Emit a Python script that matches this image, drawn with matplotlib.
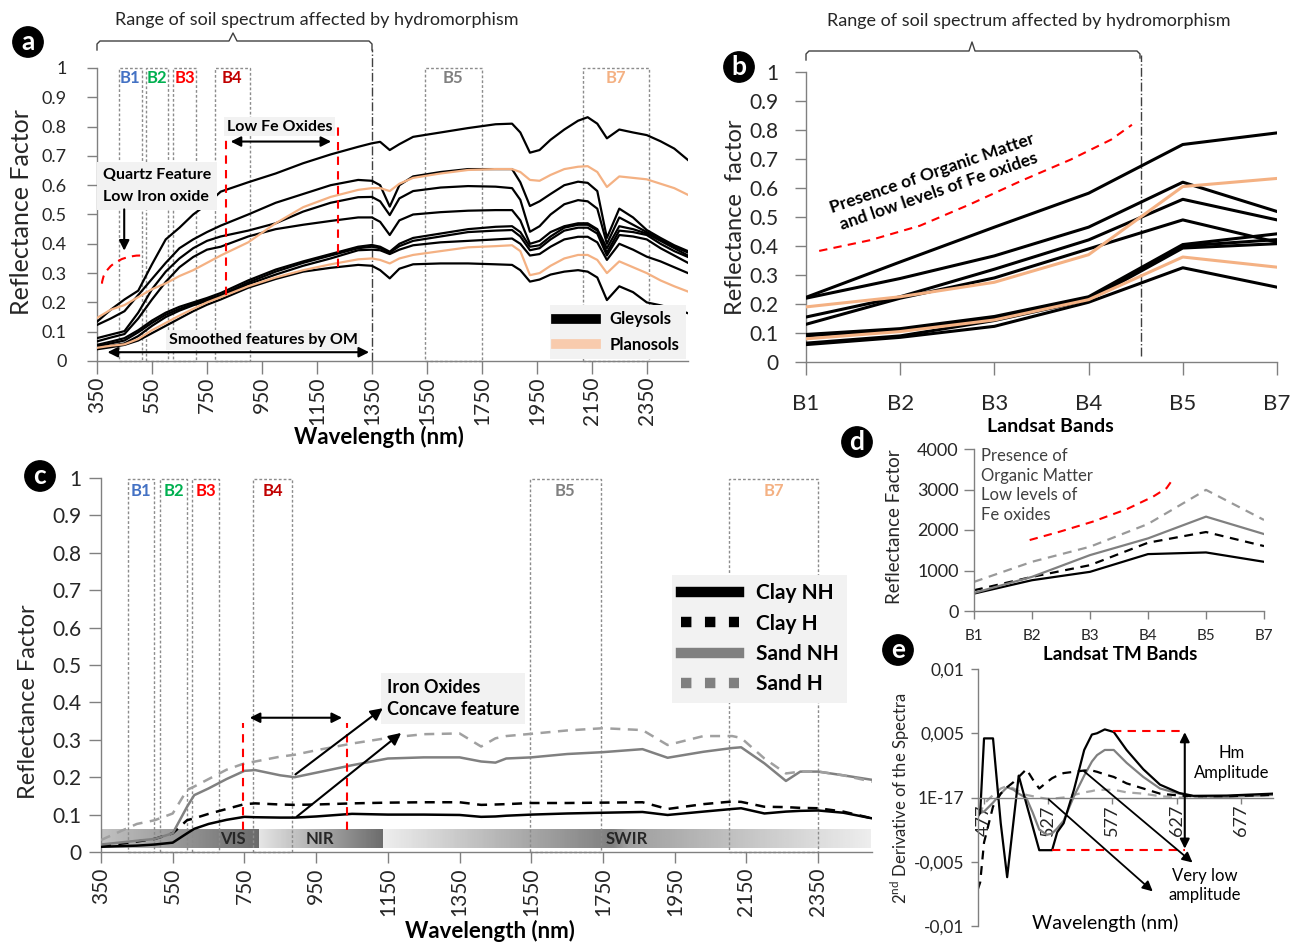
import numpy as np
import matplotlib
matplotlib.use('Agg')
import matplotlib.pyplot as plt
from matplotlib.lines import Line2D
from matplotlib.patches import Rectangle, Arc

plt.rcParams['font.family'] = ['Lato', 'DejaVu Sans']
plt.rcParams['mathtext.fontset'] = 'custom'
plt.rcParams['mathtext.rm'] = 'Lato'

W = 1304
H = 944

# ---------------- panel a : spectra of Gleysols / Planosols ----------------
wl_a = [350, 400, 450, 500, 550, 600, 650, 700, 750, 800, 900, 1000, 1100, 1200, 1300, 1350, 1380,
        1415, 1450, 1500, 1600, 1700, 1800, 1860, 1890, 1925, 1960, 2000, 2050, 2100, 2135, 2170,
        2205, 2250, 2300, 2350, 2400, 2450, 2500]
gley1 = [0.134, 0.175, 0.21, 0.24, 0.33, 0.415, 0.455, 0.50, 0.535, 0.578,
         0.61, 0.64, 0.675, 0.705, 0.731, 0.743, 0.748, 0.72, 0.74, 0.765,
         0.78, 0.795, 0.808, 0.81, 0.78, 0.711, 0.72, 0.755, 0.79, 0.82,
         0.832, 0.81, 0.76, 0.79, 0.78, 0.771, 0.75, 0.725, 0.686]
gley2 = [0.123, 0.145, 0.17, 0.225, 0.28, 0.335, 0.385, 0.415, 0.44, 0.462,
         0.50, 0.54, 0.57, 0.60, 0.618, 0.615, 0.60, 0.527, 0.60, 0.63,
         0.645, 0.655, 0.655, 0.655, 0.61, 0.529, 0.545, 0.57, 0.60, 0.612,
         0.608, 0.58, 0.42, 0.52, 0.49, 0.447, 0.42, 0.395, 0.375]
gley3 = [0.078, 0.09, 0.102, 0.165, 0.245, 0.305, 0.35, 0.385, 0.41, 0.425,
         0.445, 0.47, 0.51, 0.54, 0.559, 0.56, 0.545, 0.498, 0.555, 0.58,
         0.592, 0.597, 0.595, 0.59, 0.55, 0.441, 0.46, 0.50, 0.535, 0.549,
         0.545, 0.52, 0.40, 0.49, 0.465, 0.44, 0.415, 0.39, 0.37]
gley4 = [0.067, 0.08, 0.092, 0.145, 0.21, 0.27, 0.32, 0.355, 0.38, 0.39,
         0.425, 0.45, 0.465, 0.478, 0.49, 0.49, 0.475, 0.43, 0.48, 0.50,
         0.508, 0.513, 0.515, 0.515, 0.48, 0.40, 0.41, 0.44, 0.46, 0.47,
         0.47, 0.45, 0.385, 0.46, 0.45, 0.435, 0.41, 0.385, 0.36]
gley5 = [0.055, 0.066, 0.078, 0.105, 0.138, 0.165, 0.185, 0.20, 0.215, 0.232,
         0.275, 0.312, 0.34, 0.365, 0.39, 0.396, 0.39, 0.373, 0.40, 0.42,
         0.435, 0.45, 0.458, 0.46, 0.44, 0.39, 0.395, 0.425, 0.455, 0.465,
         0.465, 0.445, 0.37, 0.445, 0.44, 0.43, 0.40, 0.375, 0.355]
gley6 = [0.05, 0.06, 0.07, 0.098, 0.13, 0.158, 0.178, 0.195, 0.21, 0.225,
         0.268, 0.305, 0.335, 0.36, 0.385, 0.39, 0.385, 0.37, 0.392, 0.41,
         0.425, 0.44, 0.445, 0.447, 0.425, 0.378, 0.385, 0.415, 0.445, 0.455,
         0.455, 0.435, 0.36, 0.43, 0.425, 0.415, 0.385, 0.36, 0.335]
gley7 = [0.043, 0.052, 0.06, 0.085, 0.12, 0.15, 0.172, 0.19, 0.205, 0.22,
         0.262, 0.295, 0.325, 0.35, 0.378, 0.38, 0.378, 0.365, 0.38, 0.395,
         0.405, 0.41, 0.415, 0.418, 0.40, 0.36, 0.365, 0.39, 0.415, 0.424,
         0.424, 0.405, 0.345, 0.40, 0.38, 0.356, 0.34, 0.32, 0.30]
gley8 = [0.04, 0.047, 0.055, 0.07, 0.095, 0.12, 0.145, 0.17, 0.192, 0.21,
         0.25, 0.28, 0.305, 0.318, 0.328, 0.325, 0.31, 0.282, 0.315, 0.33,
         0.333, 0.333, 0.33, 0.328, 0.31, 0.271, 0.278, 0.295, 0.305, 0.31,
         0.305, 0.285, 0.208, 0.255, 0.235, 0.20, 0.19, 0.178, 0.163]
plano1 = [0.147, 0.175, 0.191, 0.218, 0.245, 0.265, 0.29, 0.31, 0.335, 0.36,
          0.405, 0.47, 0.525, 0.56, 0.584, 0.59, 0.59, 0.58, 0.605, 0.625,
          0.64, 0.652, 0.655, 0.655, 0.645, 0.618, 0.615, 0.635, 0.655, 0.663,
          0.665, 0.645, 0.594, 0.63, 0.625, 0.62, 0.605, 0.59, 0.567]
plano2 = [0.045, 0.052, 0.057, 0.075, 0.105, 0.13, 0.155, 0.178, 0.20, 0.218,
          0.255, 0.285, 0.31, 0.33, 0.347, 0.35, 0.345, 0.333, 0.35, 0.362,
          0.375, 0.388, 0.392, 0.395, 0.375, 0.293, 0.30, 0.325, 0.35, 0.362,
          0.362, 0.345, 0.30, 0.34, 0.32, 0.30, 0.275, 0.255, 0.237]
gley_a = [gley1, gley2, gley3, gley4, gley5, gley6, gley7, gley8]
plano_a = [plano1, plano2]

band_names = ['B1', 'B2', 'B3', 'B4', 'B5', 'B7']
band_colors = ['#4472C4', '#00B050', '#FF0000', '#C00000', '#808080', '#F4B183']
bands_a_nm = [(430, 512), (528, 608), (627, 710), (779, 906), (1543, 1750), (2119, 2357)]

# ---------------- panel b : Landsat band values ----------------
bands_b = ['B1', 'B2', 'B3', 'B4', 'B5', 'B7']
gley_b1 = [0.223, 0.345, 0.465, 0.582, 0.75, 0.79]
gley_b2 = [0.22, 0.288, 0.366, 0.465, 0.62, 0.519]
gley_b3 = [0.155, 0.225, 0.32, 0.421, 0.561, 0.49]
gley_b4 = [0.13, 0.22, 0.29, 0.39, 0.49, 0.413]
gley_b5 = [0.095, 0.115, 0.157, 0.225, 0.405, 0.442]
gley_b6 = [0.09, 0.11, 0.149, 0.22, 0.40, 0.422]
gley_b7 = [0.065, 0.09, 0.143, 0.214, 0.393, 0.408]
gley_b8 = [0.06, 0.085, 0.123, 0.206, 0.325, 0.258]
plano_b1 = [0.19, 0.225, 0.275, 0.37, 0.605, 0.633]
plano_b2 = [0.08, 0.105, 0.145, 0.215, 0.362, 0.327]
gley_b = [gley_b1, gley_b2, gley_b3, gley_b4, gley_b5, gley_b6, gley_b7, gley_b8]
plano_b = [plano_b1, plano_b2]
om_b_x = [0.14, 0.68, 1.21, 1.75, 2.28, 2.81, 3.24, 3.46]
om_b_y = [0.383, 0.42, 0.47, 0.545, 0.624, 0.698, 0.767, 0.818]

# ---------------- panel c : clay / sand, hydromorphic or not ----------------
wl_c = [350, 450, 500, 550, 590, 610, 650, 700, 750, 780, 850, 890, 950, 1050, 1150, 1250, 1350,
        1410, 1450, 1480, 1550, 1650, 1750, 1860, 1930, 2030, 2110, 2135, 2200, 2260, 2300, 2350,
        2420, 2500]
clay_nh = [0.014, 0.017, 0.02, 0.025, 0.05, 0.062, 0.075, 0.086, 0.094, 0.093, 0.092, 0.092,
           0.095, 0.102, 0.10, 0.10, 0.099, 0.094, 0.095, 0.097, 0.10, 0.103, 0.105, 0.107,
           0.099, 0.108, 0.115, 0.117, 0.103, 0.108, 0.11, 0.111, 0.105, 0.09]
clay_h = [0.015, 0.028, 0.035, 0.05, 0.085, 0.09, 0.102, 0.115, 0.128, 0.13, 0.127, 0.126,
          0.127, 0.13, 0.132, 0.133, 0.133, 0.126, 0.127, 0.128, 0.131, 0.131, 0.132, 0.133,
          0.115, 0.128, 0.135, 0.134, 0.121, 0.12, 0.118, 0.117, 0.108, 0.09]
sand_nh = [0.02, 0.03, 0.035, 0.05, 0.121, 0.152, 0.17, 0.195, 0.217, 0.219, 0.205, 0.20,
           0.212, 0.232, 0.25, 0.253, 0.253, 0.242, 0.239, 0.25, 0.253, 0.262, 0.267, 0.275,
           0.252, 0.268, 0.278, 0.28, 0.237, 0.19, 0.215, 0.215, 0.205, 0.193]
sand_h = [0.032, 0.075, 0.085, 0.103, 0.166, 0.175, 0.195, 0.22, 0.237, 0.242, 0.255, 0.26,
          0.272, 0.29, 0.305, 0.315, 0.317, 0.282, 0.304, 0.31, 0.316, 0.325, 0.331, 0.326,
          0.286, 0.31, 0.31, 0.305, 0.25, 0.21, 0.215, 0.215, 0.205, 0.188]
bands_c_nm = [(425, 498), (515, 590), (605, 678), (775, 883), (1546, 1744), (2102, 2349)]

# ---------------- panel d : band reflectance factor ----------------
clay_nh_d = [430, 760, 967, 1405, 1446, 1215]
clay_h_d = [512, 843, 1132, 1686, 1950, 1603]
sand_nh_d = [446, 843, 1380, 1793, 2330, 1900]
sand_h_d = [719, 1215, 1587, 2149, 2991, 2248]
om_d_x = [0.96, 1.48, 2.05, 2.63, 3.09, 3.32, 3.40]
om_d_y = [1752, 1959, 2207, 2512, 2826, 3033, 3198]

# ---------------- panel e : 2nd derivative ----------------
wl_e = [472, 474, 477, 484, 490, 495, 500, 504, 510, 515, 520, 526, 530, 534, 539, 547, 555,
        561, 565, 571, 578, 588, 601, 614, 629, 640, 666, 702]
d2_clay_nh = [-0.0015, -0.0012, 0.0046, 0.0046, -0.002, -0.0062, -0.0018, 0.0017, -0.0005,
              -0.0023, -0.0041, -0.0041, -0.0041, -0.0027, -0.002, 0.0006, 0.0037, 0.0049,
              0.005, 0.0053, 0.0051, 0.0037, 0.0022, 0.001, 0.00035, 0.00013, 0.00015, 0.0003]
d2_clay_h = [-0.0072, -0.0066, -0.0035, -0.0007, 0.0003, 0.0008, 0.0012, 0.0016, 0.0022,
             0.0014, 0.0007, 0.0012, 0.0015, 0.0017, 0.0019, 0.002, 0.0021, 0.0021, 0.002,
             0.0018, 0.0016, 0.0011, 0.0007, 0.0003, 0.00015, 0.0001, 0.0001, 0.0002]
d2_sand_nh = [-0.0013, -0.0012, -0.0011, -0.0004, 0.0003, 0.0008, 0.0006, 0.0003, -0.00005,
              -0.0012, -0.0025, -0.0029, -0.0028, -0.0024, -0.0018, 0.0001, 0.0017, 0.0028,
              0.0033, 0.0037, 0.0037, 0.0027, 0.0016, 0.0007, 0.0003, 0.0001, 0.00005, 0.0002]
d2_sand_h = [-0.0013, -0.0012, -0.0005, 0.0002, 0.0007, 0.0009, 0.0007, 0.0005, 0.0002,
             0.0001, 0.0, -0.0001, -0.0001, -0.00005, 0.0, 0.0002, 0.0004, 0.0005, 0.0006,
             0.0006, 0.0006, 0.0004, 0.0003, 0.0001, 0.0, 0.0, 0.0001, 0.0002]

peach = '#F4B183'
gray_axis = '#808080'
txt_col = '#262626'
y_ticks = [round(v * 0.1, 1) for v in range(11)]
y_labels = ['%g' % v for v in y_ticks]

fig = plt.figure(figsize=(W / 100, H / 100), dpi=100)


def px_axes(l, t, r, b):
    return fig.add_axes([l / W, 1 - b / H, (r - l) / W, (b - t) / H])


def fig_line(xs, ys, **kw):
    fig.add_artist(Line2D([x / W for x in xs], [1 - y / H for y in ys],
                          transform=fig.transFigure, **kw))


def fig_text(x, y, s, **kw):
    fig.text(x / W, 1 - y / H, s, **kw)


def style_axes(ax):
    for side in ['top', 'right']:
        ax.spines[side].set_visible(False)
    for side in ['left', 'bottom']:
        ax.spines[side].set_color(gray_axis)
        ax.spines[side].set_linewidth(1)
    ax.tick_params(color=gray_axis, width=1, labelcolor=txt_col)


def panel_tag(x, y, s):
    fig_text(x, y, s, color='white', fontsize=19, fontweight='bold', ha='center', va='center',
             bbox=dict(boxstyle='circle,pad=0.12', fc='black', ec='black'))


def band_boxes(ax, ranges, top, ytxt):
    for (lo, hi), name, col in zip(ranges, band_names, band_colors):
        ax.add_patch(Rectangle((lo, 0), hi - lo, top, fill=False, ec='#8c8c8c', lw=1,
                               ls=(0, (2, 1.5)), clip_on=False, zorder=2))
        ax.text((lo + hi) / 2, ytxt, name, color=col, ha='center', va='center',
                fontsize=12, fontweight='bold')


red_dash = dict(color='red', lw=1.5, ls=(0, (4, 3)))
box_style = dict(fc='#f2f2f2', ec='none', pad=2)

# ======================= panel a =======================
ax_a = px_axes(97, 68, 688, 361)
style_axes(ax_a)
for g in gley_a:
    ax_a.plot(wl_a, g, color='black', lw=1.6, zorder=3)
for p in plano_a:
    ax_a.plot(wl_a, p, color=peach, lw=1.6, zorder=3)
ax_a.set_xlim(350, 2500)
ax_a.set_ylim(0, 1)
ax_a.set_xticks(range(350, 2351, 200))
ax_a.tick_params(axis='x', labelrotation=90, labelsize=15, pad=2, length=9)
ax_a.set_yticks(y_ticks)
ax_a.set_yticklabels(y_labels)
ax_a.tick_params(axis='y', labelsize=13, pad=15, length=7)
band_boxes(ax_a, bands_a_nm, 1.0, 0.965)

ax_a.plot([819, 819], [0.225, 0.817], zorder=4, **red_dash)
ax_a.plot([1225, 1225], [0.322, 0.817], zorder=4, **red_dash)
ax_a.text(1015, 0.80, 'Low Fe Oxides', ha='center', va='center', fontsize=11.5,
          fontweight='bold', bbox=box_style, zorder=5)
ax_a.annotate('', xy=(826, 0.749), xytext=(1212, 0.749),
              arrowprops=dict(arrowstyle='<|-|>', color='black', lw=1.5, mutation_scale=15))
ax_a.text(372, 0.597, 'Quartz Feature\nLow Iron oxide', ha='left', va='center', fontsize=11.5,
          fontweight='bold', linespacing=1.75, bbox=dict(fc='#f2f2f2', ec='none', pad=4), zorder=5)
ax_a.annotate('', xy=(449, 0.367), xytext=(449, 0.527),
              arrowprops=dict(arrowstyle='-|>', color='black', lw=1.5, mutation_scale=15), zorder=5)
ax_a.add_patch(Arc((507, 0.26), 278, 0.2, theta1=90, theta2=180, zorder=4, **red_dash))
ax_a.text(955, 0.072, 'Smoothed features by OM', ha='center', va='center', fontsize=11.5,
          fontweight='bold', bbox=box_style, zorder=5)
ax_a.annotate('', xy=(378, 0.03), xytext=(1350, 0.03),
              arrowprops=dict(arrowstyle='<|-|>', color='black', lw=1.5, mutation_scale=15), zorder=5)
ax_a.plot([1350, 1350], [0, 1.066], ls='-.', color='#404040', lw=1, clip_on=False)
ax_a.legend([Line2D([], [], color='black', lw=7), Line2D([], [], color='#F8CBAD', lw=7)],
            ['Gleysols', 'Planosols'], loc='lower right', bbox_to_anchor=(1.0, 0.0),
            fancybox=False, facecolor='#f2f2f2', edgecolor='none', framealpha=1,
            prop={'weight': 'bold', 'size': 12}, handlelength=2.4, labelspacing=0.55,
            borderaxespad=0.1)

fig_line([97, 97, 100, 229, 233, 237, 369, 372, 372], [50, 44, 41, 41, 33, 41, 41, 44, 50],
         color='#404040', lw=1)
fig_text(317, 20, 'Range of soil spectrum affected by hydromorphism', ha='center', va='center',
         fontsize=13, color=txt_col)
fig_text(22, 212, 'Reflectance Factor', rotation=90, ha='center', va='center', fontsize=18,
         color=txt_col)
fig_text(379, 437, 'Wavelength (nm)', ha='center', va='center', fontsize=16, fontweight='bold')
panel_tag(28, 42, 'a')

# ======================= panel b =======================
ax_b = px_axes(806, 72, 1277, 362)
style_axes(ax_b)
x_b = list(range(len(bands_b)))
for g in gley_b:
    ax_b.plot(x_b, g, color='black', lw=2.2, zorder=3)
for p in plano_b:
    ax_b.plot(x_b, p, color=peach, lw=2.2, zorder=3)
ax_b.set_xlim(0, 5)
ax_b.set_ylim(0, 1)
ax_b.set_xticks(x_b)
ax_b.set_xticklabels(bands_b)
ax_b.tick_params(axis='x', labelsize=16, pad=14, length=9)
ax_b.set_yticks(y_ticks)
ax_b.set_yticklabels(y_labels)
ax_b.tick_params(axis='y', labelsize=15, pad=12, length=8)
ax_b.plot(om_b_x, om_b_y, zorder=4, **red_dash)
ax_b.text(1.375, 0.62, 'Presence of Organic Matter\nand low levels of Fe oxides', rotation=19,
          ha='center', va='center', fontsize=12.5, fontweight='bold', multialignment='center',
          rotation_mode='anchor', linespacing=1.2)
ax_b.plot([3.56, 3.56], [0.02, 1.06], ls='-.', color='#404040', lw=1, clip_on=False)

fig_line([806, 806, 809, 969, 972, 975, 1137, 1140, 1140], [60, 54, 51, 51, 42, 51, 51, 54, 58],
         color='#404040', lw=1)
fig_text(1029, 21, 'Range of soil spectrum affected by hydromorphism', ha='center', va='center',
         fontsize=13, color=txt_col)
fig_text(735, 217, 'Reflectance  factor', rotation=90, ha='center', va='center', fontsize=17,
         color=txt_col)
fig_text(1050, 426, 'Landsat Bands', ha='center', va='center', fontsize=14, fontweight='bold')
panel_tag(739, 67, 'b')

# ======================= panel c =======================
ax_c = px_axes(101, 478, 872, 852)
style_axes(ax_c)
bar_lo, bar_hi = 0.012, 0.061


def grad_bar(x0, x1, stops, vals):
    g = np.interp(np.linspace(0, 1, 200), stops, vals)[None, :]
    ax_c.imshow(g, extent=(x0, x1, bar_lo, bar_hi), aspect='auto', cmap='gray', vmin=0, vmax=1,
                zorder=1, interpolation='bilinear')


grad_bar(350, 790, [0, 1], [0.76, 0.42])
grad_bar(790, 1137, [0, 1], [0.9, 0.42])
grad_bar(1137, 2497, [0, 0.47, 0.5, 1], [0.93, 0.5, 0.62, 0.93])
ax_c.text(718, 0.036, 'VIS', ha='center', va='center', fontsize=12, fontweight='bold', color=txt_col)
ax_c.text(961, 0.036, 'NIR', ha='center', va='center', fontsize=12, fontweight='bold', color=txt_col)
ax_c.text(1816, 0.036, 'SWIR', ha='center', va='center', fontsize=12, fontweight='bold', color=txt_col)

ax_c.plot(wl_c, clay_nh, color='black', lw=1.8, zorder=3)
ax_c.plot(wl_c, clay_h, color='black', lw=1.8, ls=(0, (4, 3)), zorder=3)
ax_c.plot(wl_c, sand_nh, color='#808080', lw=1.8, zorder=3)
ax_c.plot(wl_c, sand_h, color='#a0a0a0', lw=1.8, ls=(0, (4, 3)), zorder=3)
ax_c.set_xlim(350, 2500)
ax_c.set_ylim(0, 1)
ax_c.set_xticks(range(350, 2351, 200))
ax_c.tick_params(axis='x', labelrotation=90, labelsize=15, pad=3, length=8)
ax_c.set_yticks(y_ticks)
ax_c.set_yticklabels(y_labels)
ax_c.tick_params(axis='y', labelsize=15, pad=5, length=9)
band_boxes(ax_c, bands_c_nm, 0.996, 0.965)

ax_c.plot([747, 747], [0.06, 0.344], zorder=4, **red_dash)
ax_c.plot([1035, 1035], [0.06, 0.344], zorder=4, **red_dash)
ax_c.annotate('', xy=(757, 0.359), xytext=(1030, 0.359),
              arrowprops=dict(arrowstyle='<|-|>', color='black', lw=1.5, mutation_scale=15))
ax_c.text(1147, 0.41, 'Iron Oxides\nConcave feature', ha='left', va='center', fontsize=13,
          fontweight='bold', linespacing=1.4, bbox=dict(fc='#f2f2f2', ec='none', pad=4), zorder=2)
ax_c.annotate('', xy=(1142, 0.389), xytext=(886, 0.203),
              arrowprops=dict(arrowstyle='-|>', color='black', lw=1.5, mutation_scale=18), zorder=5)
ax_c.annotate('', xy=(1193, 0.323), xytext=(890, 0.09),
              arrowprops=dict(arrowstyle='-|>', color='black', lw=1.5, mutation_scale=18), zorder=5)
leg_handles = [Line2D([], [], color='black', lw=7.5),
               Line2D([], [], color='black', lw=7.5, ls=(0, (1, 1.3))),
               Line2D([], [], color='#808080', lw=7.5),
               Line2D([], [], color='#808080', lw=7.5, ls=(0, (1, 1.3)))]
ax_c.legend(leg_handles, ['Clay NH', 'Clay H', 'Sand NH', 'Sand H'], loc='upper left',
            bbox_to_anchor=(0.741, 0.741), fancybox=False, facecolor='#f2f2f2', edgecolor='none',
            framealpha=1, prop={'weight': 'bold', 'size': 15}, handlelength=2.8,
            labelspacing=0.5, borderaxespad=0)
fig_text(29, 702, 'Reflectance Factor', rotation=90, ha='center', va='center', fontsize=17,
         color=txt_col)
fig_text(490, 931, 'Wavelength (nm)', ha='center', va='center', fontsize=16, fontweight='bold')
panel_tag(40, 476, 'c')

# ======================= panel d =======================
ax_d = px_axes(974, 449, 1264, 611)
style_axes(ax_d)
x_d = list(range(len(bands_b)))
ax_d.plot(x_d, clay_nh_d, color='black', lw=1.6)
ax_d.plot(x_d, clay_h_d, color='black', lw=1.6, ls=(0, (4, 3)))
ax_d.plot(x_d, sand_nh_d, color='#808080', lw=1.6)
ax_d.plot(x_d, sand_h_d, color='#999999', lw=1.6, ls=(0, (4, 3)))
ax_d.plot(om_d_x, om_d_y, **red_dash)
ax_d.set_xlim(0, 5)
ax_d.set_ylim(0, 4000)
ax_d.set_xticks(x_d)
ax_d.set_xticklabels(bands_b)
ax_d.set_yticks([0, 1000, 2000, 3000, 4000])
ax_d.tick_params(axis='x', labelsize=11, pad=7, length=6)
ax_d.tick_params(axis='y', labelsize=13, pad=4, length=7)
ax_d.text(0.115, 3100, 'Presence of\nOrganic Matter\nLow levels of\nFe oxides', ha='left',
          va='center', fontsize=12, color='#404040', linespacing=1.3)
fig_text(895, 527, 'Reflectance Factor', rotation=90, ha='center', va='center', fontsize=13.5,
         color=txt_col)
fig_text(1120, 655, 'Landsat TM Bands', ha='center', va='center', fontsize=13.5, fontweight='bold')
panel_tag(857, 442, 'd')

# ======================= panel e =======================
ax_e = px_axes(978, 669, 1273, 926)
style_axes(ax_e)
ax_e.spines['bottom'].set_position(('data', 0))
ax_e.plot(wl_e, d2_sand_h, color='#a6a6a6', lw=1.6, ls=(0, (4, 3)))
ax_e.plot(wl_e, d2_sand_nh, color='#808080', lw=1.6)
ax_e.plot(wl_e, d2_clay_h, color='black', lw=1.6, ls=(0, (4, 3)))
ax_e.plot(wl_e, d2_clay_nh, color='black', lw=1.6)
ax_e.set_xlim(472.3, 702)
ax_e.set_ylim(-0.01, 0.01)
ax_e.set_xticks([477, 527, 577, 627, 677])
ax_e.tick_params(axis='x', labelrotation=90, labelsize=13, pad=1, length=4)
ax_e.set_yticks([-0.01, -0.005, 0, 0.005, 0.01])
ax_e.set_yticklabels(['-0,01', '-0,005', '1E-17', '0,005', '0,01'])
ax_e.tick_params(axis='y', labelsize=12.5, pad=5, length=5)

ax_e.plot([577.6, 633.3], [0.0052, 0.0052], **red_dash)
ax_e.plot([530, 633.3], [-0.0041, -0.0041], **red_dash)
ax_e.annotate('', xy=(633.3, 0.0053), xytext=(633.3, -0.0042),
              arrowprops=dict(arrowstyle='<|-|>', color='black', lw=1.5, mutation_scale=14))
ax_e.text(669.6, 0.0027, 'Hm\nAmplitude', ha='center', va='center', fontsize=12, linespacing=1.3)
ax_e.annotate('', xy=(610, -0.00745), xytext=(525.7, 0),
              arrowprops=dict(arrowstyle='-|>', color='black', lw=1.3, mutation_scale=15))
ax_e.annotate('', xy=(641, -0.0052), xytext=(553, 0.0022),
              arrowprops=dict(arrowstyle='-|>', color='black', lw=1.3, mutation_scale=15))
ax_e.text(649, -0.00685, 'Very low\namplitude', ha='center', va='center', fontsize=12,
          linespacing=1.3)
ax_e.text(0.43, 0.012, 'Wavelength (nm)', transform=ax_e.transAxes, ha='center', va='center',
          fontsize=14)
fig_text(900, 798, '2$^{\\mathrm{nd}}$ Derivative of the Spectra', rotation=90, ha='center',
         va='center', fontsize=12, color=txt_col)
panel_tag(898, 650, 'e')

fig.savefig('out.png', dpi=100)
